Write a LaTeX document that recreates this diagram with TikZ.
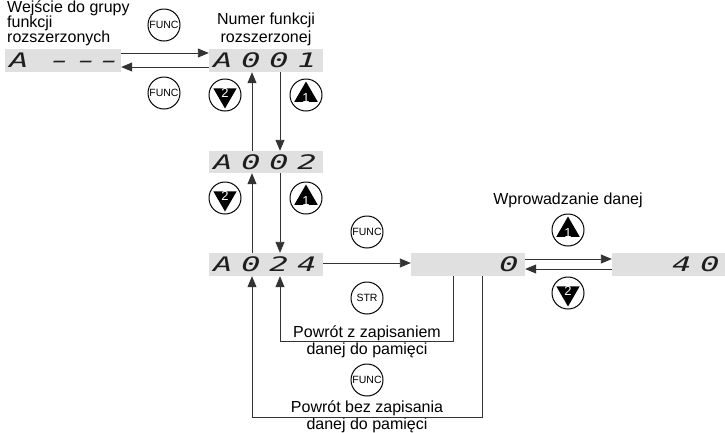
\documentclass[tikz,border=0pt]{standalone}
\usepackage{fontspec}
\usepackage{graphicx}
\setmainfont{Liberation Sans}
\newfontfamily\lcdfont{DejaVu Sans Mono}
\usetikzlibrary{arrows.meta,calc}
\definecolor{lcdgray}{HTML}{E0E0E0}
\definecolor{lcdtext}{HTML}{1E1E1E}
\definecolor{wire}{HTML}{333333}
\newcommand\lcdcell[1]{\makebox[28pt]{\scalebox{1.6}[1]{#1}}}
\newcommand\lcdshow[4]{\hbox to 114pt{\lcdcell{#1}\lcdcell{#2}\lcdcell{#3}\lcdcell{#4}\hss}}
\newcommand\lcddash{\scalebox{1.4}[1]{-}}
\begin{document}
\begin{tikzpicture}[x=1pt,y=-1pt,
  lcdbox/.style={fill=lcdgray, minimum width=114pt, minimum height=23pt, inner sep=0pt,
    text=lcdtext, font=\lcdfont\itshape\fontsize{20}{20}\selectfont},
  txt/.style={inner sep=0pt, anchor=base, font=\fontsize{16}{16}\selectfont},
  btnbase/.style={circle, draw=black, line width=1pt, minimum size=32pt, inner sep=0pt},
  btn/.style={btnbase, font=\fontsize{10.5}{10.5}\selectfont},
  upbtn/.style={btnbase, text=white, font=\fontsize{13}{13}\selectfont,
    path picture={\fill[black] ($(path picture bounding box.center)+(90:13.5pt)$)
      -- ($(path picture bounding box.center)+(210:13.5pt)$)
      -- ($(path picture bounding box.center)+(330:13.5pt)$) -- cycle;}},
  dnbtn/.style={btnbase, text=white, font=\fontsize{13}{13}\selectfont,
    path picture={\fill[black] ($(path picture bounding box.center)+(270:13.5pt)$)
      -- ($(path picture bounding box.center)+(30:13.5pt)$)
      -- ($(path picture bounding box.center)+(150:13.5pt)$) -- cycle;}},
  arr/.style={draw=wire, line width=0.9pt, -{Triangle[length=11pt,width=9pt]}}
]
\useasboundingbox[fill=white] (0,0) rectangle (725,432);

% display boxes
\node[lcdbox, minimum width=116pt] (adash) at (63,60.5)
  {\hbox to 116pt{\lcdcell{A}\hskip13pt\lcdcell{\lcddash}\hskip-1.5pt\lcdcell{\lcddash}\hskip-5pt\lcdcell{\lcddash}\hss}};
\node[lcdbox] (a001) at (266,60.5) {\lcdshow{A}{0}{0}{1}};
\node[lcdbox, minimum height=22pt] (a002) at (266,162) {\lcdshow{A}{0}{0}{2}};
\node[lcdbox] (a024) at (266,264.5) {\lcdshow{A}{0}{2}{4}};
\node[lcdbox] (b0) at (468,264.5) {\lcdshow{}{}{}{0}};
\node[lcdbox] (b40) at (669,264.5) {\lcdshow{}{}{4}{0}};

% texts
\node[txt, anchor=base west] (w1) at (7,12.5) {Wejście do grupy};
\node[txt, anchor=base west] (w2) at (7,27.5) {funkcji};
\node[txt, anchor=base west] (w3) at (7,42.5) {rozszerzonych};
\node[txt] (n1) at (266,24) {Numer funkcji};
\node[txt] (n2) at (266,42) {rozszerzonej};
\node[txt] (wp) at (568,204) {Wprowadzanie danej};
\node[txt] (p1) at (367,337) {Powrót z zapisaniem};
\node[txt] (p2) at (367,354) {danej do pamięci};
\node[txt] (p3) at (367,412) {Powrót bez zapisania};
\node[txt] (p4) at (367,429) {danej do pamięci};

% buttons
\node[btn] (f1) at (164,25) {FUNC};
\node[btn] (f2) at (164,93) {FUNC};
\node[dnbtn] (d1) at (225,95) {\raisebox{-2.6pt}[0pt][0pt]{2}};
\node[upbtn] (u1) at (306,95) {\raisebox{-7.6pt}[0pt][0pt]{1}};
\node[dnbtn] (d2) at (225,198) {\raisebox{-2.6pt}[0pt][0pt]{2}};
\node[upbtn] (u2) at (306,198) {\raisebox{-7.6pt}[0pt][0pt]{1}};
\node[btn] (f3) at (367,232) {FUNC};
\node[btn] (s1) at (367,298) {STR};
\node[upbtn] (u3) at (568,230) {\raisebox{-7.6pt}[0pt][0pt]{1}};
\node[dnbtn] (d3) at (568,293) {\raisebox{-2.6pt}[0pt][0pt]{2}};
\node[btn] (f4) at (367,380) {FUNC};

% connectors
\draw[arr] ([yshift=7.5pt]adash.east) -- ([yshift=7.5pt]a001.west);
\draw[arr] ([yshift=-6.5pt]a001.west) -- ([yshift=-6.5pt]adash.east);
\draw[arr] ([xshift=-14pt]a002.north) -- ([xshift=-14pt]a001.south);
\draw[arr] ([xshift=14pt]a001.south) -- ([xshift=14pt]a002.north);
\draw[arr] ([xshift=-14pt]a024.north) -- ([xshift=-14pt]a002.south);
\draw[arr] ([xshift=14pt]a002.south) -- ([xshift=14pt]a024.north);
\draw[arr] ([yshift=1.5pt]a024.east) -- ([yshift=1.5pt]b0.west);
\draw[arr] ([yshift=5.5pt]b0.east) -- ([yshift=5.5pt]b40.west);
\draw[arr] ([yshift=-4.5pt]b40.west) -- ([yshift=-4.5pt]b0.east);
\draw[arr] ([xshift=-15pt]b0.south) -- ++(0,65) -| ([xshift=14pt]a024.south);
\draw[arr] ([xshift=14pt]b0.south) -- ++(0,141) -| ([xshift=-14pt]a024.south);
\end{tikzpicture}
\end{document}
